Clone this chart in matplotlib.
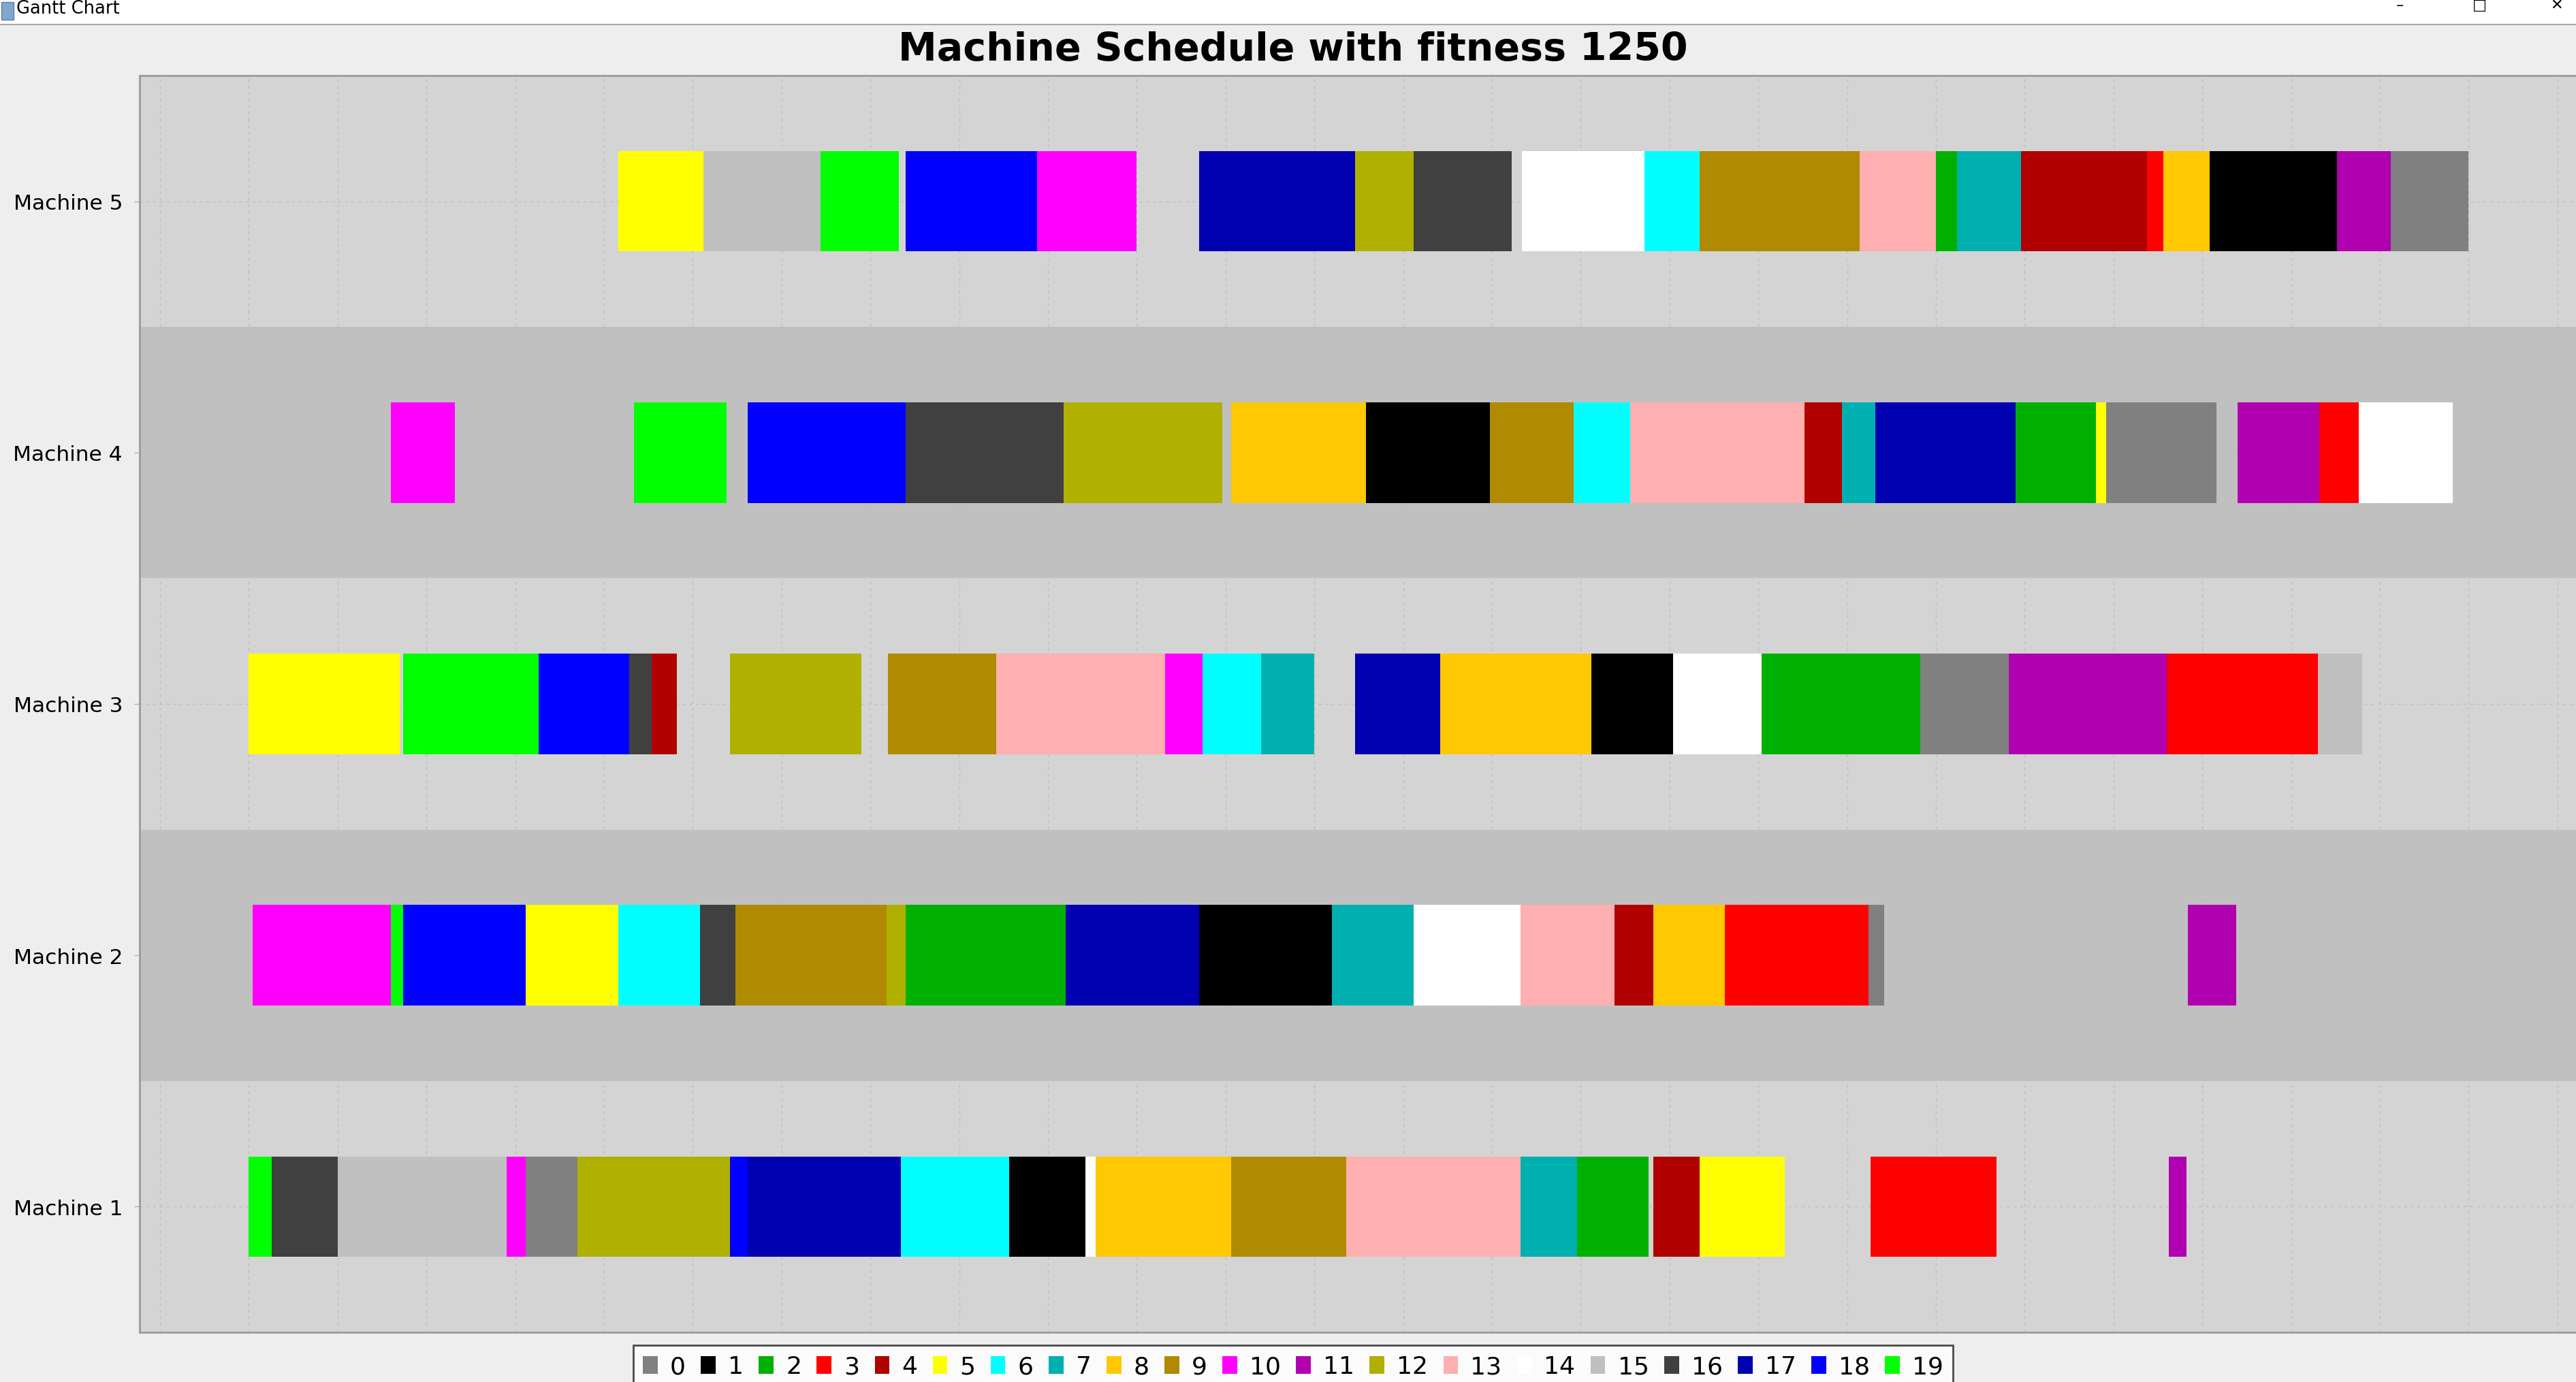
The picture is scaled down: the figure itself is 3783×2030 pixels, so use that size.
import matplotlib
matplotlib.use("Agg")
import matplotlib.pyplot as plt
from matplotlib.patches import Patch, Rectangle
from matplotlib.lines import Line2D
import numpy as np

# machines, bottom row first
machines = ["Machine 1", "Machine 2", "Machine 3", "Machine 4", "Machine 5"]

job_labels = [str(i) for i in range(20)]
job_colors = ["#808080", "#000000", "#00B000", "#FF0000", "#B00000",
              "#FFFF00", "#00FFFF", "#00B0B0", "#FFC800", "#B08A00",
              "#FF00FF", "#B000B0", "#B0B000", "#FFAFAF", "#FFFFFF",
              "#C0C0C0", "#404040", "#0000B0", "#0000FF", "#00FF00"]

m1_job = [19, 16, 15, 10, 0, 12, 18, 17, 6, 1, 14, 8, 9, 13, 7, 2, 4, 5, 3, 11]
m1_start = [0, 13, 50, 145, 156, 185, 271, 281, 367, 428, 471, 477, 553, 618, 716, 748, 791, 817, 913, 1081]
m1_end = [13, 50, 145, 156, 185, 271, 281, 367, 428, 471, 477, 553, 618, 716, 748, 788, 817, 865, 984, 1091]

m2_job = [10, 19, 18, 5, 6, 16, 9, 12, 2, 17, 1, 7, 14, 13, 4, 8, 3, 0, 11]
m2_start = [2, 80, 87, 156, 208, 254, 274, 359, 370, 460, 535, 610, 656, 716, 769, 791, 831, 912, 1092]
m2_end = [80, 87, 156, 208, 254, 274, 359, 370, 460, 535, 610, 656, 716, 769, 791, 831, 912, 921, 1119]

m3_job = [5, 19, 18, 16, 4, 12, 9, 13, 10, 6, 7, 17, 8, 1, 14, 2, 0, 11, 3, 15]
m3_start = [0, 87, 163, 214, 227, 271, 360, 421, 516, 537, 570, 623, 671, 756, 802, 852, 941, 991, 1080, 1165]
m3_end = [85, 163, 214, 227, 241, 345, 421, 516, 537, 570, 600, 671, 756, 802, 852, 941, 991, 1080, 1165, 1190]

m4_job = [10, 19, 18, 16, 12, 8, 1, 9, 6, 13, 4, 7, 17, 2, 5, 0, 11, 3, 14]
m4_start = [80, 217, 281, 370, 459, 553, 629, 699, 746, 778, 876, 897, 916, 995, 1040, 1046, 1120, 1166, 1188]
m4_end = [116, 269, 370, 459, 548, 629, 699, 746, 778, 876, 897, 916, 995, 1040, 1046, 1108, 1166, 1188, 1241]

m5_job = [5, 15, 19, 18, 10, 17, 12, 16, 14, 6, 9, 13, 2, 7, 4, 3, 8, 1, 11, 0]
m5_start = [208, 256, 322, 370, 444, 535, 623, 656, 717, 786, 817, 907, 950, 962, 998, 1069, 1078, 1104, 1176, 1206]
m5_end = [256, 322, 366, 444, 500, 623, 656, 711, 786, 817, 907, 950, 962, 998, 1069, 1078, 1104, 1176, 1206, 1250]

schedule = [(m1_job, m1_start, m1_end), (m2_job, m2_start, m2_end),
            (m3_job, m3_start, m3_end), (m4_job, m4_start, m4_end),
            (m5_job, m5_start, m5_end)]

W, H = 3783, 2031
fig = plt.figure(figsize=(W / 100, H / 100), dpi=100, facecolor="#EEEEEE")

# window title bar
fig.patches.append(Rectangle((0, 1 - 37 / H), 1, 37 / H, transform=fig.transFigure,
                             facecolor="white", edgecolor="none", zorder=0))
fig.lines.append(Line2D([0, 1], [1 - 37 / H, 1 - 37 / H], transform=fig.transFigure,
                        color="#A8A8A8", lw=1.5))
fig.patches.append(Rectangle((2 / W, 1 - 30 / H), 18 / W, 26 / H, transform=fig.transFigure,
                             facecolor="#7FA7D0", edgecolor="#5A7FA8", lw=1))
fig.text(24 / W, 1 - 13 / H, "Gantt Chart", fontsize=18.5, va="center", ha="left")
fig.text(3525 / W, 1 - 8 / H, "\u2013", fontsize=16, va="center", ha="center")
fig.text(3641 / W, 1 - 8 / H, "\u25A1", fontsize=16, va="center", ha="center")
fig.text(3754 / W, 1 - 8 / H, "\u2715", fontsize=16, va="center", ha="center")

fig.text(0.5019, 1 - 74 / H, "Machine Schedule with fitness 1250",
         ha="center", va="center", fontsize=41, fontweight="bold")

ax = fig.add_axes([205 / W, 1 - 1958 / H, 1 - 205 / W, (1958 - 112) / H])
ax.set_facecolor("#D4D4D4")

band_colors = ["#D4D4D4", "#C0C0C0"]
for i in range(len(machines)):
    ax.axhspan(i - 0.5, i + 0.5, color=band_colors[i % 2], lw=0, zorder=0.1)

for i, (jobs, starts, ends) in enumerate(schedule):
    starts = np.array(starts)
    ends = np.array(ends)
    ax.barh([i] * len(jobs), ends - starts, left=starts, height=0.4,
            color=[job_colors[j] for j in jobs], linewidth=0, zorder=2)

ax.set_xlim(-61.5, 1310.4)
ax.set_ylim(-0.5, len(machines) - 0.5)
ax.set_xticks(np.arange(-50, 1301, 50))
ax.set_yticks(range(len(machines)))
ax.set_yticklabels(machines, fontsize=22.5)
ax.tick_params(axis="x", length=0, labelbottom=False)
ax.tick_params(axis="y", length=6, width=1, color="#B0B0B0", pad=12)
ax.set_axisbelow(True)
ax.grid(axis="x", color="#BEBEBE", linestyle=(0, (3, 4)), lw=1.0)
ax.grid(axis="y", color="#BEBEBE", linestyle=(0, (3, 4)), lw=1.0)

for side in ["top", "left", "bottom"]:
    ax.spines[side].set_color("#9A9A9A")
    ax.spines[side].set_linewidth(2)
ax.spines["right"].set_visible(False)

handles = [Patch(facecolor=c, edgecolor="none") for c in job_colors]
leg = fig.legend(handles, job_labels, ncol=20, loc="upper center",
                 bbox_to_anchor=(0.502, 1 - 1977 / H), fontsize=26,
                 handlelength=0.6, handleheight=0.75, handletextpad=0.5,
                 columnspacing=0.62, borderpad=0.4, borderaxespad=0,
                 frameon=True, fancybox=False)
leg.get_frame().set_edgecolor("#202020")
leg.get_frame().set_linewidth(2)
leg.get_frame().set_facecolor("white")

fig.savefig("out.png", dpi=100, facecolor=fig.get_facecolor())
